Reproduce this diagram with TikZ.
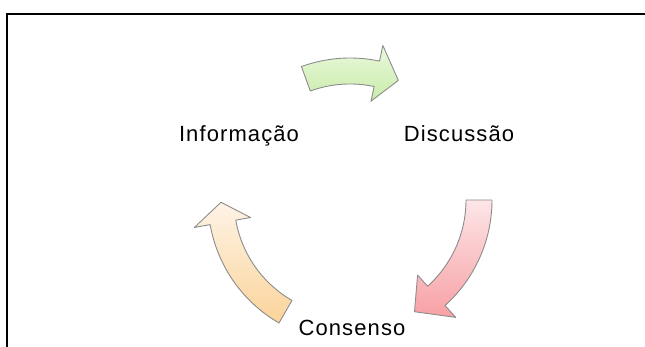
\documentclass[tikz,border=0pt]{standalone}
\usepackage{fontspec}
\setmainfont{Liberation Sans}[LetterSpace=5]
\usetikzlibrary{shadows}
\definecolor{greenlight}{HTML}{EAF8DC}
\definecolor{greendark}{HTML}{C9ECAA}
\definecolor{redlight}{HTML}{FDE6E8}
\definecolor{reddark}{HTML}{F7A0A4}
\definecolor{orangelight}{HTML}{FEF3E6}
\definecolor{orangedark}{HTML}{FBD49A}
\tikzstyle{stage}=[font=\fontsize{11}{13}\selectfont, inner sep=0pt, anchor=base]
\tikzstyle{cyclearrow}=[draw=black!45, line width=0.45pt, line join=round]

\begin{document}
\begin{tikzpicture}[x=0.5pt, y=0.5pt]

  \useasboundingbox (0,0) rectangle (645,347);
  \draw[line width=1pt] (7,0) -- (7,333) -- (645,333);

  \def\ro{142};
  \def\ri{116};

  % arrows of the cycle, around the centre of the three stages
  \begin{scope}[shift={(350,147)}]
    \foreach \start/\barb/\tip/\light/\dark in {110/78/68/greenlight/greendark, 0/-48/-60/redlight/reddark, 240/190/181/orangelight/orangedark}
      \draw[cyclearrow, top color=\light, bottom color=\dark] (\start:\ro) arc[start angle=\start, end angle=\barb, radius=\ro] -- (\barb:158) -- (\tip:129) -- (\barb:101) -- (\barb:\ri) arc[start angle=\barb, end angle=\start, radius=\ri] -- cycle;
  \end{scope}

  \node[stage] (info) at (239,205) {Informação};
  \node[stage] (disc) at (459,205) {Discussão};
  \node[stage] (cons) at (352,11) {Consenso};

\end{tikzpicture}
\end{document}
